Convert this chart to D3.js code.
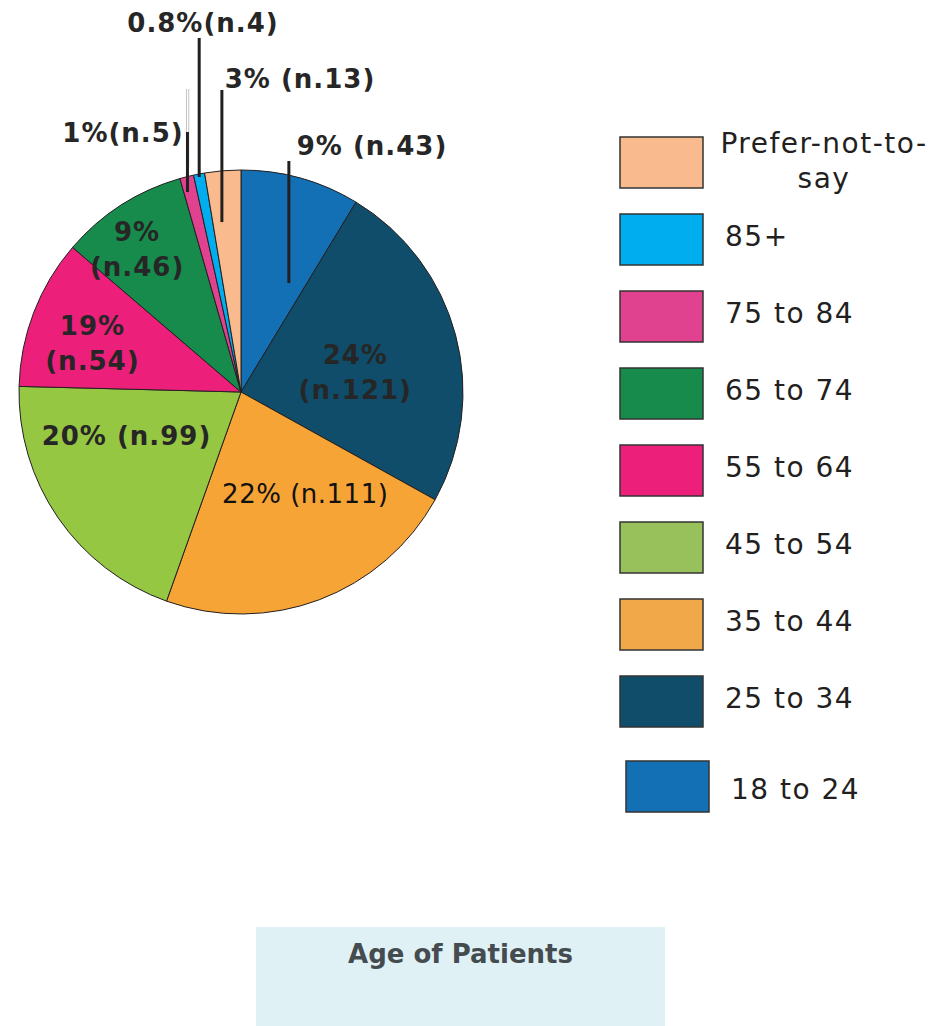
<!DOCTYPE html>
<html>
<head>
<meta charset="utf-8">
<script src="https://cdn.jsdelivr.net/npm/d3@7"></script>
<style>
  body { margin: 0; background: #fff; }
  svg { display: block; }
</style>
</head>
<body>
<div id="drawing_region"></div>
<script>
// age groups, clockwise from 12 o'clock
const categories = ["18 to 24", "25 to 34", "35 to 44", "45 to 54", "55 to 64", "65 to 74", "75 to 84", "85+", "Prefer-not-to-say"];
const counts = [43, 121, 111, 99, 54, 46, 5, 4, 13];
const pctText = ["9%", "24%", "22%", "20%", "19%", "9%", "1%", "0.8%", "3%"];
const pieColors = ["#1470b5", "#0f4d6a", "#f6a436", "#96c742", "#ec1f7b", "#168b4c", "#e0428f", "#00adee", "#f9bb8e"];
const legendColors = ["#1470b5", "#0f4d6a", "#f0a848", "#98c15c", "#ec1f7b", "#168b4c", "#e0428f", "#00adee", "#f9bb8e"];
const chartTitle = "Age of Patients";

const data = categories.map((c, i) => ({ cat: c, n: counts[i], pct: pctText[i], color: pieColors[i], lcolor: legendColors[i] }));

const width = 951, height = 1026;
const cx = 241, cy = 392, radius = 222;

// where each slice label goes: inside (offset from centroid) or outside with a leader line
const labelLayout = {
    "18 to 24":          { mode: "lead", t: 0.76, r: 119, top: 161, x: 372, y: 155, sep: " " },
    "25 to 34":          { mode: "in", dx: 7, dy: 0, split: true },
    "35 to 44":          { mode: "in", dx: 25, dy: 7, normal: true },
    "45 to 54":          { mode: "in", dx: -23, dy: -10 },
    "55 to 64":          { mode: "in", dx: -45, dy: -17, split: true },
    "65 to 74":          { mode: "in", dx: -44, dy: -58, split: true },
    "75 to 84":          { mode: "lead", t: 0.27, r: 207, top: 132, x: 123, y: 142, sep: "", ghost: 89 },
    "85+":               { mode: "lead", t: 0.46, r: 219, top: 38, x: 203, y: 32, sep: "" },
    "Prefer-not-to-say": { mode: "lead", t: 0.32, r: 171, top: 90, x: 300, y: 88, sep: " " }
};

const svg = d3.select("#drawing_region")
    .append("svg")
    .attr("width", width)
    .attr("height", height)
    .style("font-family", "'DejaVu Sans', Verdana, sans-serif");

const pie = d3.pie().sort(null).value(d => d.n);
const arc = d3.arc().innerRadius(0).outerRadius(radius);
const arcs = pie(data);

const g = svg.append("g").attr("transform", "translate(" + cx + "," + cy + ")");

g.selectAll("path")
    .data(arcs)
    .enter()
    .append("path")
    .attr("d", arc)
    .attr("fill", d => d.data.color)
    .attr("stroke", "#231f20")
    .attr("stroke-width", 1);

// labels
const labelFill = "#262626";
arcs.forEach(d => {
    const L = labelLayout[d.data.cat];
    const nText = "(n." + d.data.n + ")";
    if (L.mode === "in") {
        const c = arc.centroid(d);
        const t = g.append("text")
            .attr("text-anchor", "middle")
            .attr("font-size", 26)
            .attr("font-weight", L.normal ? "normal" : "bold")
            .attr("letter-spacing", L.normal ? 0.5 : 1)
            .attr("fill", L.normal ? "#111" : labelFill);
        if (L.split) {
            t.append("tspan").attr("x", c[0] + L.dx).attr("y", c[1] + L.dy).text(d.data.pct);
            t.append("tspan").attr("x", c[0] + L.dx).attr("y", c[1] + L.dy + 35).text(nText);
        } else {
            t.attr("x", c[0] + L.dx).attr("y", c[1] + L.dy).text(d.data.pct + " " + nText);
        }
    } else {
        const ang = d.startAngle + L.t * (d.endAngle - d.startAngle);
        const p = d3.pointRadial(ang, L.r);
        const lx = cx + p[0], ly = cy + p[1];
        if (L.ghost) {
            [-1, 1.3].forEach(o => {
                svg.append("line")
                    .attr("x1", lx + o).attr("x2", lx + o)
                    .attr("y1", L.ghost).attr("y2", ly - 25)
                    .attr("stroke", "#b5b5b5")
                    .attr("stroke-width", 0.8);
            });
        }
        svg.append("line")
            .attr("x1", lx).attr("x2", lx)
            .attr("y1", L.top).attr("y2", ly)
            .attr("stroke", "#231f20")
            .attr("stroke-width", 3);
        svg.append("text")
            .attr("x", L.x)
            .attr("y", L.y)
            .attr("text-anchor", "middle")
            .attr("font-size", 26)
            .attr("font-weight", "bold")
            .attr("letter-spacing", 1)
            .attr("fill", labelFill)
            .text(d.data.pct + L.sep + nText);
    }
});

// legend, top item is the last category
const legendOrder = categories.slice().reverse();
const ly = d3.scalePoint().domain(legendOrder).range([137, 753]);
const boxW = 83, boxH = 51, boxX = 620;

const legend = svg.append("g")
    .selectAll("g")
    .data(legendOrder.map(c => data.find(d => d.cat === c)))
    .enter()
    .append("g")
    .attr("transform", (d, i) => {
        const nudge = i === legendOrder.length - 1 ? [6, 8] : [0, 0];
        return "translate(" + (boxX + nudge[0]) + "," + (ly(d.cat) + nudge[1]) + ")";
    });

legend.append("rect")
    .attr("width", boxW)
    .attr("height", boxH)
    .attr("fill", d => d.lcolor)
    .attr("stroke", "#333")
    .attr("stroke-width", 1.5);

legend.each(function(d, i) {
    const t = d3.select(this).append("text")
        .attr("font-size", 28)
        .attr("letter-spacing", 1.5)
        .attr("fill", "#231f20");
    if (d.cat.indexOf("-to-") > 0) {
        const parts = d.cat.split(/(?<=-to-)/);
        t.attr("text-anchor", "middle");
        t.append("tspan").attr("x", 204).attr("y", 16).text(parts[0]);
        t.append("tspan").attr("x", 204).attr("y", 51).text(parts[1]);
    } else {
        t.attr("x", boxW + 22).attr("y", boxH / 2 + (i === legendOrder.length - 1 ? 12 : 6)).text(d.cat);
    }
});

// title box
svg.append("rect")
    .attr("x", 256)
    .attr("y", 927)
    .attr("width", 409)
    .attr("height", 99)
    .attr("fill", "#e0f1f6");

svg.append("text")
    .attr("x", 460.5)
    .attr("y", 963)
    .attr("text-anchor", "middle")
    .attr("font-size", 26)
    .attr("font-weight", "bold")
    .attr("fill", "#454c50")
    .text(chartTitle);
</script>
</body>
</html>
